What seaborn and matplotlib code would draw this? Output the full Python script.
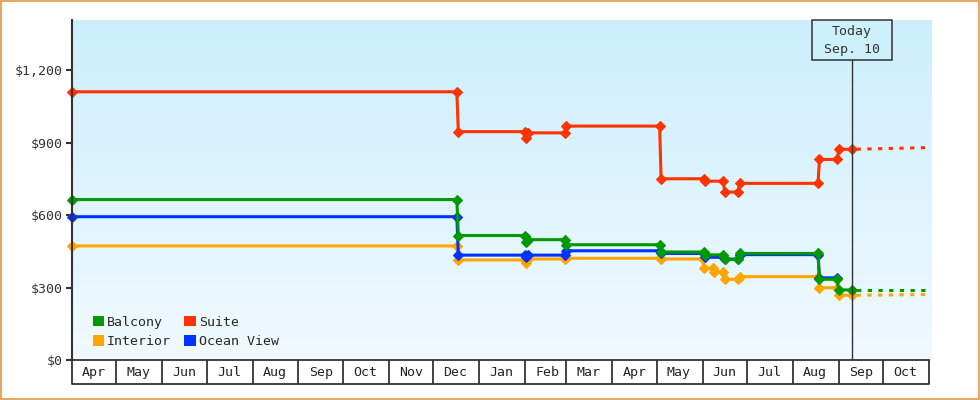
import matplotlib
matplotlib.use("Agg")
import matplotlib.pyplot as plt
import matplotlib.dates as mdates
from matplotlib.patches import Rectangle, Patch
import numpy as np
import pandas as pd
import seaborn as sns

# Price history: a point on each side of every price change
suite_dates = ["2022-04-01", "2022-12-17", "2022-12-18", "2023-02-01", "2023-02-02",
               "2023-02-03", "2023-02-28", "2023-03-01", "2023-05-03", "2023-05-04",
               "2023-06-02", "2023-06-03", "2023-06-15", "2023-06-16", "2023-06-25",
               "2023-06-26", "2023-08-18", "2023-08-19", "2023-08-31", "2023-09-01",
               "2023-09-10"]
suite_prices = [1110, 1110, 945, 945, 920, 940, 940, 968, 968, 750,
                750, 740, 740, 695, 695, 731, 731, 830, 830, 872, 872]

balcony_dates = suite_dates
balcony_prices = [664, 664, 515, 515, 490, 498, 498, 477, 477, 447,
                  447, 435, 435, 417, 417, 441, 441, 334, 334, 290, 290]

ocean_view_dates = suite_dates[:19]
ocean_view_prices = [593, 593, 434, 434, 425, 434, 434, 452, 452, 441,
                     441, 425, 425, 417, 417, 436, 436, 340, 340]

interior_dates = ["2022-04-01", "2022-12-17", "2022-12-18", "2023-02-01", "2023-02-02",
                  "2023-02-03", "2023-02-28", "2023-03-01", "2023-05-03", "2023-05-04",
                  "2023-06-01", "2023-06-02", "2023-06-08", "2023-06-09", "2023-06-15",
                  "2023-06-16", "2023-06-25", "2023-06-26", "2023-08-18", "2023-08-19",
                  "2023-08-31", "2023-09-01", "2023-09-10"]
interior_prices = [472, 472, 414, 414, 403, 418, 418, 421, 421, 418,
                   418, 380, 380, 366, 366, 334, 334, 345, 345, 299, 299, 268, 268]

# Projection after today
forecast_dates = ["2023-09-10", "2023-11-01"]
suite_forecast = [872, 879]
balcony_forecast = [290, 290]
interior_forecast = [268, 271]

TODAY = "2023-09-10"
TODAY_TEXT = ["Today", "Sep. 10"]
Y_TICKS = [0, 300, 600, 900, 1200]

COLORS = {"Balcony": "#009900", "Suite": "#ff3300",
          "Interior": "#ffa500", "Ocean View": "#0033ff"}
INK = "#333333"

sns.set_style("white")
plt.rcParams["font.family"] = ["DejaVu Sans Mono"]
plt.rcParams["font.size"] = 9.5

W, H = 980, 400
fig = plt.figure(figsize=(W / 100, H / 100), dpi=100)
rect = [72 / W, 40 / H, (931 - 72) / W, 340 / H]

# gradient background behind the plot
bg = fig.add_axes(rect, zorder=0)
grad = np.linspace(0, 1, 256)[:, None, None]
top = np.array([0.80, 0.935, 0.99])
bottom = np.array([0.945, 0.98, 1.0])
bg.imshow(top * (1 - grad) + bottom * grad, aspect="auto", extent=[0, 1, 0, 1])
bg.axis("off")

ax = fig.add_axes(rect, zorder=1)
ax.set_facecolor("none")

series = [
    ("Interior", interior_dates, interior_prices),
    ("Ocean View", ocean_view_dates, ocean_view_prices),
    ("Balcony", balcony_dates, balcony_prices),
    ("Suite", suite_dates, suite_prices),
]
for name, dates, prices in series:
    sns.lineplot(x=pd.to_datetime(dates), y=prices, ax=ax, color=COLORS[name],
                 linewidth=2.2, marker="D", markersize=5.0, markeredgewidth=0.8,
                 markeredgecolor=COLORS[name], clip_on=False)

fc_x = pd.to_datetime(forecast_dates)
for name, vals in [("Interior", interior_forecast), ("Balcony", balcony_forecast),
                   ("Suite", suite_forecast)]:
    sns.lineplot(x=fc_x, y=vals, ax=ax, color=COLORS[name], linewidth=2.2,
                 linestyle=(2.0, (1.4, 2.1)))

x0 = pd.Timestamp("2022-04-01")
x_last = pd.Timestamp("2023-11-01")
x1 = x_last + pd.Timedelta(days=2 / 1.48)
ax.set_xlim(x0, x1)
ax.set_ylim(0, 1407)

# today marker
today = pd.Timestamp(TODAY)
box_top = 1.0
box_bot = (360 - 60) / 340
ax.axvline(today, ymin=0, ymax=box_bot, color=INK, lw=1.0, zorder=5)
tr = ax.get_xaxis_transform()
half = pd.Timedelta(days=40 / 1.48)
tx = mdates.date2num(today)
ax.add_patch(Rectangle((mdates.date2num(today - half), box_bot), 80 / 1.48, box_top - box_bot,
                       transform=tr, facecolor="#cdf0fd", edgecolor=INK, lw=1.1,
                       zorder=6, clip_on=False))
ax.text(tx, (360 - 32) / 340, TODAY_TEXT[0], transform=tr, ha="center", va="center",
        color=INK, zorder=7)
ax.text(tx, (360 - 50) / 340, TODAY_TEXT[1], transform=tr, ha="center", va="center",
        color=INK, zorder=7)

# y axis
ax.set_yticks(Y_TICKS)
ax.yaxis.set_major_formatter(plt.FuncFormatter(lambda v, p: f"${v:,.0f}"))
ax.tick_params(axis="y", length=4.5, width=1.5, color=INK, pad=2,
               labelcolor=INK, left=True)

# month boxes on the x axis
ax.xaxis.set_major_locator(mdates.MonthLocator(bymonthday=1))
ax.xaxis.set_major_formatter(plt.NullFormatter())
ax.xaxis.set_minor_locator(mdates.MonthLocator(bymonthday=16))
ax.xaxis.set_minor_formatter(mdates.DateFormatter("%b"))
ax.tick_params(axis="x", which="major", length=17.3, width=1.3, color=INK,
               direction="out", bottom=True)
ax.tick_params(axis="x", which="minor", length=0, pad=4.5, labelcolor="#222222",
               bottom=True)
box_end = (929 - 72) / 859
ax.plot([0, box_end], [-24 / 340, -24 / 340], transform=ax.transAxes,
        color=INK, lw=1.3, clip_on=False)

for side in ["top", "right"]:
    ax.spines[side].set_visible(False)
ax.spines["left"].set_color(INK)
ax.spines["left"].set_linewidth(1.5)
ax.spines["bottom"].set_color(INK)
ax.spines["bottom"].set_linewidth(1.3)
ax.spines["bottom"].set_bounds(mdates.date2num(x0), mdates.date2num(x_last))
ax.set_xlabel("")
ax.set_ylabel("")

handles = [Patch(facecolor=COLORS[n], edgecolor="none", label=n)
           for n in ["Balcony", "Interior", "Suite", "Ocean View"]]
ax.legend(handles=handles, ncol=2, loc="lower left", bbox_to_anchor=(0.024, 0.035),
          frameon=False, borderpad=0, borderaxespad=0, handlelength=0.85,
          handleheight=0.85, handletextpad=0.25, columnspacing=1.0, labelspacing=0.5)

# outer frame
fig.add_artist(Rectangle((0.001, 0.0015), 0.998, 0.997, transform=fig.transFigure,
                         fill=False, edgecolor="#e8a860", lw=1.5))

fig.savefig("out.png", dpi=100)
